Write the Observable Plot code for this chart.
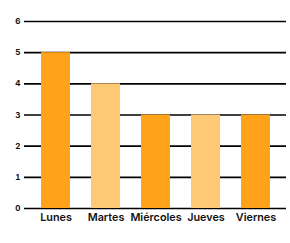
<!DOCTYPE html>
<html><head><meta charset="utf-8">
<script src="https://cdn.jsdelivr.net/npm/d3@7"></script>
<script src="https://cdn.jsdelivr.net/npm/@observablehq/plot@0.6"></script>
<style>body{margin:0;background:#fff}</style>
</head><body><div id="chart"></div>
<script>
const days = ["Lunes", "Martes", "Miércoles", "Jueves", "Viernes"];
const values = [5, 4, 3, 3, 3];
const shades = ["dark", "light", "dark", "light", "dark"];
const yTicks = [0, 1, 2, 3, 4, 5, 6];

const data = days.map((d, i) => ({day: d, value: values[i], shade: shades[i]}));

const chart = Plot.plot({
  width: 290, height: 243,
  marginLeft: 24, marginRight: 4, marginTop: 21, marginBottom: 35,
  style: {fontFamily: "Inter, 'Open Sans', sans-serif", background: "#fff"},
  x: {domain: days, paddingInner: 0.43, paddingOuter: 0.3, label: null},
  y: {domain: [0, 6], ticks: yTicks, label: null},
  color: {domain: ["dark", "light"], range: ["#FFA31A", "#FFC875"]},
  marks: [
    Plot.ruleY(yTicks, {stroke: "#000", strokeWidth: 1.6}),
    Plot.barY(data, {x: "day", y: "value", fill: "shade"}),
    Plot.axisY({ticks: yTicks, tickFormat: "d", tickSize: 0, tickPadding: 4, fontSize: 8, fontWeight: "bold", label: null, fill: "#111"}),
    Plot.axisX({tickSize: 0, tickPadding: 5, fontSize: 10.8, fontWeight: "600", label: null, fill: "#111"})
  ]
});
document.getElementById("chart").append(chart);
</script>
</body></html>
